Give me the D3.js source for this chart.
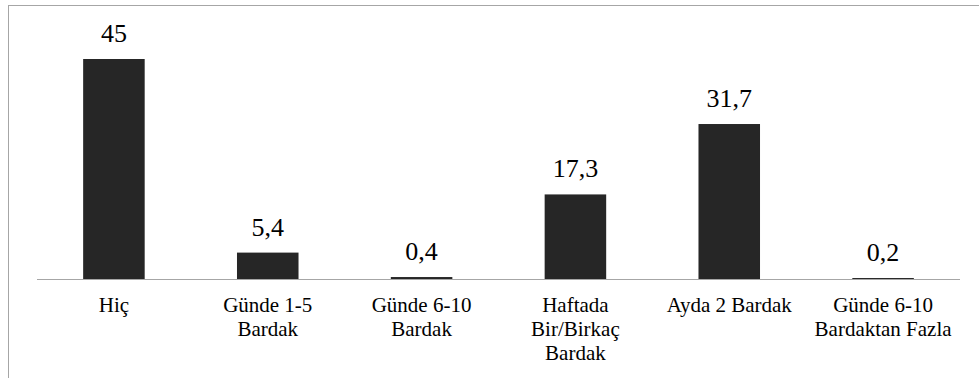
<!DOCTYPE html>
<html>
<head>
<meta charset="utf-8">
<script src="https://cdn.jsdelivr.net/npm/d3@7"></script>
<style>
  body { margin: 0; background: #fff; }
  svg text, svg tspan { font-family: "Times New Roman", "Liberation Serif", Times, serif !important; fill: #000; }
</style>
</head>
<body>
<svg id="grafico" width="979" height="378"></svg>
<script>
const kategoriler = ["Hiç", "Günde 1-5 Bardak", "Günde 6-10 Bardak", "Haftada Bir/Birkaç Bardak", "Ayda 2 Bardak", "Günde 6-10 Bardaktan Fazla"];
const etiketSatirlari = [["Hiç"], ["Günde 1-5", "Bardak"], ["Günde 6-10", "Bardak"], ["Haftada", "Bir/Birkaç", "Bardak"], ["Ayda 2 Bardak"], ["Günde 6-10", "Bardaktan Fazla"]];
const degerler = [45, 5.4, 0.4, 17.3, 31.7, 0.2];
const degerEtiketleri = ["45", "5,4", "0,4", "17,3", "31,7", "0,2"];

const svg = d3.select("#grafico");

// çerçeve (sağ ve alt kenar pencerenin dışında kalıyor)
svg.append("rect")
    .attr("x", 8.5).attr("y", 5.5)
    .attr("width", 990).attr("height", 400)
    .attr("fill", "none").attr("stroke", "#a6a6a6");

const esas = 279;
const fnX = d3.scaleBand()
    .domain(kategoriler)
    .range([37, 960])
    .paddingInner(0.6)
    .paddingOuter(0.3);

const fnY = d3.scaleLinear()
    .domain([0, 45])
    .range([esas, 59]);

const dados = kategoriler.map((k, i) => ({ chave: k, valor: degerler[i], rotulo: degerEtiketleri[i], linhas: etiketSatirlari[i] }));
const meio = d => fnX(d.chave) + fnX.bandwidth() / 2;

svg.append("g").selectAll("rect")
    .data(dados)
    .enter()
    .append("rect")
    .attr("x", d => fnX(d.chave))
    .attr("y", d => fnY(d.valor))
    .attr("width", fnX.bandwidth())
    .attr("height", d => esas - fnY(d.valor))
    .attr("fill", "#262626");

svg.append("line")
    .attr("x1", 37).attr("x2", 960)
    .attr("y1", esas + 0.5).attr("y2", esas + 0.5)
    .attr("stroke", "#a6a6a6");

svg.append("g").selectAll("text")
    .data(dados)
    .enter()
    .append("text")
    .text(d => d.rotulo)
    .attr("x", meio)
    .attr("y", d => fnY(d.valor) - 17)
    .attr("text-anchor", "middle")
    .attr("font-family", "Times New Roman")
    .style("font-size", "26px");

const eixo = svg.append("g").selectAll("text")
    .data(dados)
    .enter()
    .append("text")
    .attr("text-anchor", "middle")
    .attr("font-family", "Times New Roman")
    .style("font-size", "21px");

eixo.selectAll("tspan")
    .data(d => d.linhas.map(l => ({ l: l, x: meio(d) })))
    .enter()
    .append("tspan")
    .attr("x", d => d.x)
    .attr("y", (d, i) => 312 + i * 24)
    .text(d => d.l);
</script>
</body>
</html>
